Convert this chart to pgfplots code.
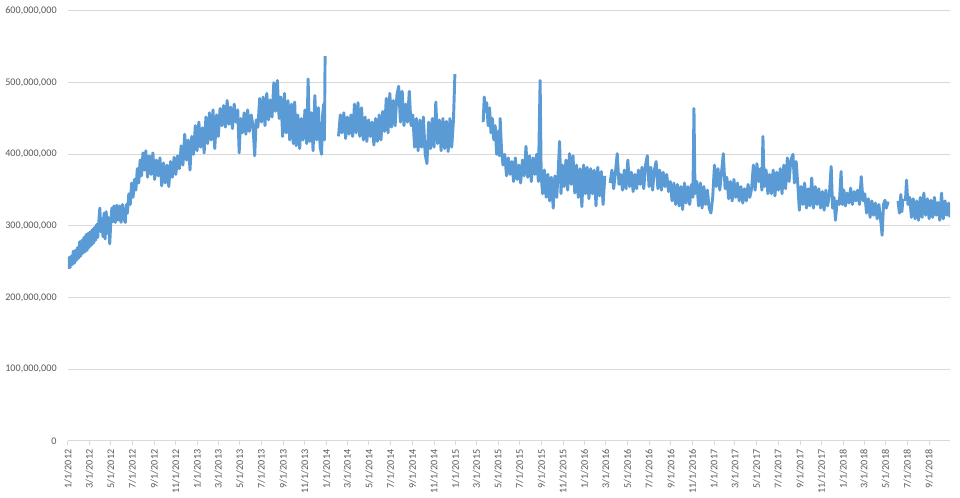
\documentclass[border=0pt]{standalone}
\usepackage{pgfplots}
\pgfplotsset{compat=1.18}
\usepackage{fontspec}
\setmainfont{Carlito}
\definecolor{serblue}{HTML}{5B9BD5}
\definecolor{gridgray}{HTML}{D9D9D9}
\definecolor{tickgray}{HTML}{595959}
\pgfplotsset{myline/.style={draw=serblue, line width=2.2pt, line join=round, mark=none}}
\begin{document}
\begin{tikzpicture}
\begin{axis}[
  scale only axis,
  width=661.5pt, height=322.5pt,
  xmin=0, xmax=2494, ymin=0, ymax=600,
  axis x line*=bottom, axis y line*=left,
  y axis line style={draw=none},
  x axis line style={draw=gridgray, line width=0.75pt},
  ytick={0,100,200,300,400,500,600},
  yticklabels={0,{100,000,000},{200,000,000},{300,000,000},{400,000,000},{500,000,000},{600,000,000}},
  ymajorgrids, grid style={draw=gridgray, line width=0.75pt},
  ytick style={draw=none},
  xtick={0,60,121,182,244,305,366,425,486,547,609,670,731,790,851,912,974,1035,1096,1155,1216,1277,1339,1400,1461,1521,1582,1643,1705,1766,1827,1886,1947,2008,2070,2131,2192,2251,2312,2373,2435},
  xticklabels={1/1/2012,3/1/2012,5/1/2012,7/1/2012,9/1/2012,11/1/2012,1/1/2013,3/1/2013,5/1/2013,7/1/2013,9/1/2013,11/1/2013,1/1/2014,3/1/2014,5/1/2014,7/1/2014,9/1/2014,11/1/2014,1/1/2015,3/1/2015,5/1/2015,7/1/2015,9/1/2015,11/1/2015,1/1/2016,3/1/2016,5/1/2016,7/1/2016,9/1/2016,11/1/2016,1/1/2017,3/1/2017,5/1/2017,7/1/2017,9/1/2017,11/1/2017,1/1/2018,3/1/2018,5/1/2018,7/1/2018,9/1/2018},
  xtick align=outside,
  xtick style={draw=gridgray, line width=0.75pt},
  major tick length=3pt,
  ticklabel style={font=\fontsize{7.6}{9}\selectfont, text=tickgray},
  xticklabel style={rotate=90, anchor=east},
  yticklabel style={xshift=-5pt},
]
% Segment A
\addplot[myline] coordinates {(0,240)(3,256)(6,242)(9,258)(12,246)(15,265)(18,248)(21,266)(24,252)(27,270)(30,255)(33,278)(36,258)(39,280)(42,262)(45,284)(48,264)(51,288)(54,266)(57,290)(60,270)(63,292)(66,273)(69,295)(72,276)(75,298)(78,280)(81,302)(84,284)(87,305)(90,325)(93,292)(96,310)(99,285)(102,318)(105,282)(108,320)(111,290)(114,312)(118,275)(121,305)(124,325)(127,306)(130,328)(134,305)(138,329)(142,308)(146,328)(150,305)(154,330)(158,310)(162,305)(165,330)(168,318)(172,345)(176,330)(180,360)(184,340)(188,365)(192,350)(196,380)(200,360)(204,392)(208,370)(212,402)(216,378)(220,405)(225,368)(230,398)(235,372)(240,402)(245,365)(250,392)(255,370)(260,395)(265,356)(270,388)(275,360)(280,385)(285,355)(290,390)(295,368)(300,396)(305,372)(310,398)(315,380)(320,412)(325,385)(330,428)(335,392)(340,420)(345,378)(350,425)(355,400)(360,440)(365,405)(370,445)(375,410)(380,437)(385,402)(390,452)(395,415)(400,458)(405,420)(410,462)(415,408)(420,455)(425,425)(430,464)(435,440)(440,468)(445,438)(450,475)(455,442)(460,466)(465,436)(470,470)(475,445)(480,462)(484,402)(488,450)(493,430)(498,458)(503,428)(508,462)(513,432)(518,455)(523,440)(528,398)(532,448)(537,438)(542,478)(547,445)(552,480)(557,440)(562,485)(567,448)(572,476)(577,452)(582,500)(587,460)(592,503)(597,450)(602,480)(607,425)(612,485)(617,430)(622,475)(627,420)(632,470)(637,415)(641,473)(645,412)(650,455)(655,408)(660,450)(665,420)(670,462)(675,415)(679,505)(683,418)(688,458)(693,405)(698,482)(703,420)(708,465)(713,410)(717,400)(720,455)(723,470)(725,420)(727,537)};
% Segment B
\addplot[myline] coordinates {(765,425)(770,455)(775,430)(780,458)(785,422)(790,452)(795,428)(800,455)(805,425)(810,470)(815,430)(820,472)(825,425)(830,465)(835,420)(840,452)(845,418)(850,448)(855,425)(860,445)(865,413)(870,450)(875,418)(880,455)(885,420)(890,460)(895,432)(900,478)(905,430)(910,485)(915,438)(920,475)(925,440)(930,482)(935,495)(940,445)(945,488)(950,440)(955,470)(960,445)(965,488)(970,440)(975,455)(980,410)(985,450)(990,405)(995,448)(1000,410)(1005,452)(1010,400)(1015,387)(1020,445)(1025,408)(1030,450)(1035,410)(1040,473)(1045,415)(1050,448)(1055,405)(1060,450)(1065,408)(1070,446)(1075,404)(1080,450)(1085,410)(1090,448)(1094,512)};
% Segment C
\addplot[myline] coordinates {(1174,445)(1177,480)(1180,460)(1184,472)(1188,440)(1192,465)(1196,430)(1200,450)(1204,420)(1208,440)(1212,400)(1216,432)(1220,398)(1222,450)(1226,405)(1230,385)(1235,400)(1240,370)(1245,395)(1250,372)(1255,390)(1260,362)(1265,395)(1270,365)(1275,385)(1280,360)(1285,392)(1290,370)(1295,411)(1300,368)(1305,398)(1310,362)(1315,395)(1320,372)(1325,400)(1330,362)(1335,503)(1338,370)(1342,345)(1347,378)(1352,340)(1357,372)(1362,335)(1367,368)(1372,325)(1377,370)(1382,340)(1386,375)(1390,418)(1394,345)(1398,385)(1403,355)(1408,392)(1413,350)(1418,401)(1423,358)(1428,398)(1433,346)(1438,385)(1443,340)(1448,380)(1453,327)(1458,385)(1463,345)(1468,382)(1473,338)(1478,380)(1483,345)(1488,378)(1493,328)(1498,382)(1503,342)(1508,376)(1513,330)(1518,370)};
% Segment D
\addplot[myline] coordinates {(1533,360)(1538,378)(1543,352)(1548,375)(1553,401)(1558,358)(1563,372)(1568,350)(1573,378)(1578,352)(1583,392)(1588,355)(1593,375)(1598,348)(1603,372)(1608,352)(1613,378)(1618,358)(1623,382)(1628,352)(1633,385)(1638,398)(1643,355)(1648,382)(1653,350)(1658,378)(1663,390)(1668,352)(1673,378)(1678,350)(1683,375)(1688,355)(1693,372)(1698,348)(1703,362)(1708,335)(1713,360)(1718,330)(1723,358)(1728,328)(1733,355)(1738,323)(1743,360)(1748,332)(1753,355)(1758,330)(1763,358)(1767,340)(1770,464)(1773,345)(1778,362)(1783,328)(1788,360)(1793,325)(1798,355)(1803,330)(1808,350)(1813,325)(1818,318)(1823,340)(1828,385)(1833,355)(1838,380)(1843,350)(1848,375)(1853,401)(1858,352)(1863,368)(1868,338)(1873,362)(1878,335)(1883,365)(1888,340)(1893,360)(1898,335)(1903,355)(1908,332)(1913,352)(1918,335)(1923,358)(1928,340)(1933,352)(1938,385)(1943,350)(1948,387)(1953,362)(1958,380)(1962,350)(1965,425)(1969,355)(1974,378)(1979,345)(1984,372)(1989,345)(1994,378)(1999,342)(2004,375)(2009,350)(2014,380)(2019,345)(2024,385)(2029,352)(2034,395)(2039,362)(2044,392)(2050,400)(2054,360)(2059,390)(2064,355)(2068,322)(2073,355)(2078,330)(2083,360)(2088,325)(2093,352)(2098,328)(2103,367)(2108,325)(2113,355)(2118,330)(2123,352)(2128,325)(2133,348)(2138,322)(2143,350)(2148,328)(2153,345)(2158,383)(2162,325)(2166,340)(2170,308)(2175,335)(2181,330)(2186,376)(2190,330)(2194,350)(2198,328)(2203,346)(2208,332)(2213,353)(2218,330)(2223,348)(2228,335)(2233,350)(2238,330)(2243,369)(2248,335)(2253,345)(2258,318)(2263,338)(2268,312)(2273,335)(2278,315)(2283,332)(2288,310)(2293,330)(2298,308)(2302,287)(2306,330)(2310,336)(2314,325)(2319,334)};
% Segment E
\addplot[myline] coordinates {(2347,335)(2351,318)(2355,344)(2358,320)(2361,338)};
% Segment F
\addplot[myline] coordinates {(2368,335)(2371,364)(2375,330)(2380,340)(2385,312)(2390,338)(2395,310)(2400,335)(2405,308)(2410,340)(2415,312)(2420,346)(2425,315)(2430,338)(2435,310)(2440,336)(2445,312)(2450,340)(2455,315)(2460,333)(2465,308)(2470,346)(2475,310)(2480,335)(2485,315)(2490,332)(2494,312)};
\end{axis}
\pgfresetboundingbox
\useasboundingbox (-51pt,-42.75pt) rectangle (669pt,330.75pt);
\end{tikzpicture}
\end{document}
